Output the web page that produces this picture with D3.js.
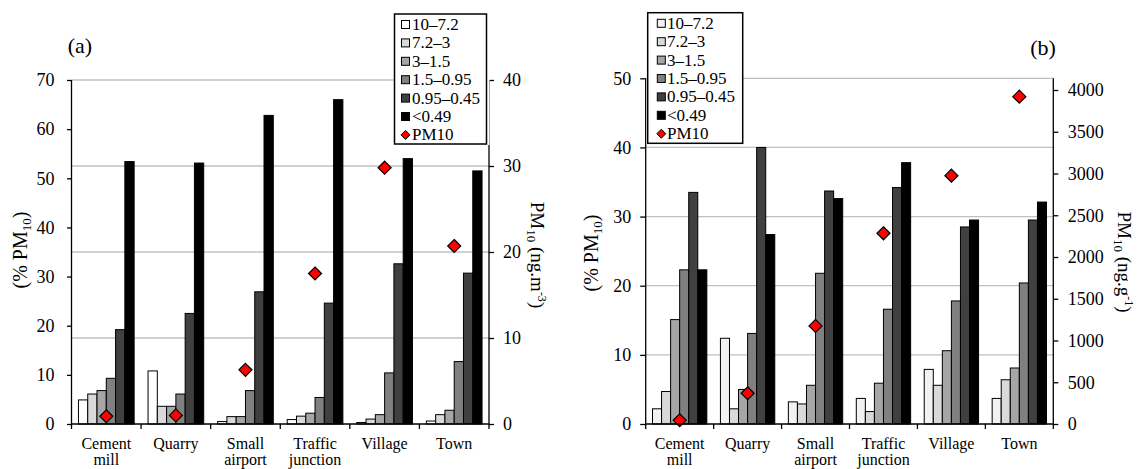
<!DOCTYPE html>
<html><head><meta charset="utf-8">
<script src="https://cdn.jsdelivr.net/npm/d3@7"></script>
<style>
html,body{margin:0;padding:0;background:#fff;}
svg{display:block;font-family:"Liberation Serif","Times New Roman",serif;}
</style></head>
<body>
<svg id="chart" width="1138" height="469"></svg>
<script>
// ---------- data ----------
const categories = ["Cement mill","Quarry","Small airport","Traffic junction","Village","Town"];
const sizeClasses = ["10\u20137.2","7.2\u20133","3\u20131.5","1.5\u20130.95","0.95\u20130.45","<0.49"];

// panel (a): % PM10 per size class
const a_10_72   = [4.9, 10.8, 0.5, 0.9, 0.3, 0.6];
const a_72_3    = [6.1, 3.6, 1.5, 1.6, 1.0, 1.9];
const a_3_15    = [6.8, 3.6, 1.5, 2.2, 1.9, 2.8];
const a_15_095  = [9.3, 6.1, 6.8, 5.4, 10.4, 12.7];
const a_095_045 = [19.2, 22.5, 26.9, 24.6, 32.6, 30.7];
const a_049     = [53.4, 53.1, 62.8, 66.0, 54.0, 51.5];
const aPM10     = [0.9, 1.0, 6.3, 17.5, 29.8, 20.7];   // ng.m-3

// panel (b): % PM10 per size class
const b_10_72   = [2.2, 12.4, 3.2, 3.7, 7.9, 3.7];
const b_72_3    = [4.7, 2.2, 2.9, 1.8, 5.6, 6.4];
const b_3_15    = [15.1, 5.0, 5.6, 5.9, 10.6, 8.1];
const b_15_095  = [22.3, 13.1, 21.8, 16.6, 17.8, 20.4];
const b_095_045 = [33.5, 40.0, 33.7, 34.2, 28.5, 29.5];
const b_049     = [22.3, 27.4, 32.6, 37.8, 29.5, 32.1];
const bPM10     = [45, 368, 1175, 2284, 2974, 3920];    // ng.g-1

const aLeftTicks  = [0,10,20,30,40,50,60,70];
const aRightTicks = [0,10,20,30,40];
const bLeftTicks  = [0,10,20,30,40,50];
const bRightTicks = [0,500,1000,1500,2000,2500,3000,3500,4000];

const fillsA = ["#ffffff","#d9d9d9","#a6a6a6","#808080","#404040","#000000"];
const fillsB = ["#f2f2f2","#d9d9d9","#a6a6a6","#808080","#404040","#000000"];

const FONT = "Liberation Serif, Times New Roman, serif";
const svg = d3.select("#chart");

function drawPanel(cfg){
  const g = svg.append("g").attr("font-family", FONT);
  const x = d3.scaleBand().domain(categories).range([cfg.xL, cfg.xR]).paddingInner(0).paddingOuter(0);
  const w = x.bandwidth();
  const xs = d3.scaleBand().domain(sizeClasses).range([w*0.75/7.5, w*6.75/7.5]).padding(0);
  const yL = d3.scaleLinear().domain(cfg.leftDomain).range([cfg.yBot, cfg.yTopL]);
  const yR = d3.scaleLinear().domain(cfg.rightDomain).range([cfg.yBot, cfg.yTopR]);

  // gridlines
  const gridScale = cfg.gridOn === "right" ? yR : yL;
  const gridTicks = (cfg.gridOn === "right" ? cfg.rightTicks : cfg.leftTicks).filter(d=>d>0);
  g.append("g").selectAll("line").data(gridTicks).join("line")
    .attr("x1", cfg.xL).attr("x2", cfg.xR)
    .attr("y1", d=>gridScale(d)).attr("y2", d=>gridScale(d))
    .attr("stroke","#c0c0c0").attr("stroke-width",1.3);

  // bars
  cfg.series.forEach((vals, j) => {
    g.append("g").selectAll("rect").data(vals).join("rect")
      .attr("x", (d,i)=>x(categories[i]) + xs(sizeClasses[j]))
      .attr("width", xs.bandwidth())
      .attr("y", d=>yL(d))
      .attr("height", d=>yL(0)-yL(d))
      .attr("fill", cfg.fills[j])
      .attr("stroke","#000").attr("stroke-width",1);
  });

  // PM10 diamonds
  const ds = 6.5;
  g.append("g").selectAll("path").data(cfg.pm).join("path")
    .attr("d", (d,i)=>{
      const cx = x(categories[i]) + w/2, cy = yR(d);
      return `M${cx},${cy-ds}L${cx+ds},${cy}L${cx},${cy+ds}L${cx-ds},${cy}Z`;
    })
    .attr("fill","#ff0000").attr("stroke","#000").attr("stroke-width",1.2);

  // axes
  const fmt = d3.format("d");
  const axL = g.append("g").attr("transform",`translate(${cfg.xL},0)`)
    .call(d3.axisLeft(yL).tickValues(cfg.leftTicks).tickFormat(fmt).tickSize(cfg.tickL).tickSizeOuter(0).tickPadding(cfg.padL));
  const axR = g.append("g").attr("transform",`translate(${cfg.xR},0)`)
    .call(d3.axisRight(yR).tickValues(cfg.rightTicks).tickFormat(fmt).tickSize(5).tickSizeOuter(0).tickPadding(cfg.padR));
  [axL, axR].forEach(ax=>{
    ax.attr("font-family", FONT);
    ax.select(".domain").remove();
    ax.selectAll("line").attr("stroke","#000").attr("stroke-width",1.3);
    ax.selectAll("text").attr("font-size",18).attr("font-family",FONT).attr("fill","#000");
  });
  // vertical axis lines
  g.append("line").attr("x1",cfg.xL).attr("x2",cfg.xL).attr("y1",cfg.yTopAxis).attr("y2",cfg.yBot)
    .attr("stroke","#000").attr("stroke-width",1.3);
  g.append("line").attr("x1",cfg.xR).attr("x2",cfg.xR).attr("y1",cfg.yTopAxis).attr("y2",cfg.yBot)
    .attr("stroke","#000").attr("stroke-width",1.3);
  // bottom axis
  g.append("line").attr("x1",cfg.xL).attr("x2",cfg.xR).attr("y1",cfg.yBot).attr("y2",cfg.yBot)
    .attr("stroke","#000").attr("stroke-width",1.3);
  const bounds = categories.map(c=>x(c)).concat([cfg.xR]);
  g.append("g").selectAll("line").data(bounds).join("line")
    .attr("x1",d=>d).attr("x2",d=>d).attr("y1",cfg.yBot).attr("y2",cfg.yBot+5)
    .attr("stroke","#000").attr("stroke-width",1.3);
  // category labels
  const cl = g.append("g").selectAll("text").data(categories).join("text")
    .attr("x", d=>x(d)+w/2).attr("y", 449)
    .attr("text-anchor","middle").attr("font-size",16).attr("fill","#000");
  cl.each(function(d){
    const parts = d.split(" ");
    const t = d3.select(this);
    parts.forEach((p,k)=>{
      t.append("tspan").attr("x", x(d)+w/2).attr("dy", k===0?0:16).text(p);
    });
  });

  // legend
  const lg = g.append("g");
  lg.append("rect").attr("x",cfg.lgX-1).attr("y",cfg.lgY-1).attr("width",cfg.lgW+cfg.lgCover).attr("height",cfg.lgH+2)
    .attr("fill","#fff");
  lg.append("rect").attr("x",cfg.lgX).attr("y",cfg.lgY).attr("width",cfg.lgW).attr("height",cfg.lgH)
    .attr("fill","#fff").attr("stroke","#000").attr("stroke-width",1.5);
  const rowY = k => cfg.lgRow0 + k*18.4;
  sizeClasses.forEach((s,k)=>{
    lg.append("rect").attr("x",cfg.lgSqX).attr("y",rowY(k)-4).attr("width",8).attr("height",8)
      .attr("fill",cfg.fills[k]).attr("stroke","#000").attr("stroke-width",1);
    lg.append("text").attr("x",cfg.lgTxX).attr("y",rowY(k)+5.5).attr("font-size",17).attr("fill","#000").text(s);
  });
  const ky = rowY(6), kx = cfg.lgSqX+4, kd = 4.5;
  lg.append("path").attr("d",`M${kx},${ky-kd}L${kx+kd},${ky}L${kx},${ky+kd}L${kx-kd},${ky}Z`)
    .attr("fill","#ff0000").attr("stroke","#000").attr("stroke-width",1);
  lg.append("text").attr("x",cfg.lgTxX).attr("y",ky+5.5).attr("font-size",17).attr("fill","#000").text("PM10");

  // panel letter
  g.append("text").attr("x",cfg.letterX).attr("y",cfg.letterY).attr("text-anchor","middle")
    .attr("font-size",22).attr("fill","#000").text(cfg.letter);

  // left title
  const lt = g.append("text").attr("transform",`translate(${cfg.ltX},${cfg.ltY}) rotate(-90)`)
    .attr("text-anchor","middle").attr("font-size",20).attr("fill","#000");
  lt.append("tspan").text("(% PM");
  lt.append("tspan").attr("font-size",13).attr("dy",4).text("10");
  lt.append("tspan").attr("dy",-4).text(")");

  // right title
  const rt = g.append("text").attr("transform",`translate(${cfg.rtX},${cfg.rtY}) rotate(90)`)
    .attr("text-anchor","middle").attr("font-size",19).attr("fill","#000");
  rt.append("tspan").text("PM");
  rt.append("tspan").attr("font-size",13).attr("dy",4).text("10");
  rt.append("tspan").attr("dy",-4).text(" (ng." + cfg.unitBase);
  rt.append("tspan").attr("font-size",12).attr("dy",-7).text(cfg.unitExp);
  rt.append("tspan").attr("dy",7).text(")");
}

drawPanel({
  xL:71.5, xR:489, yBot:424, yTopL:80, yTopR:80, yTopAxis:80,
  leftDomain:[0,70], rightDomain:[0,40],
  leftTicks:aLeftTicks, rightTicks:aRightTicks, gridOn:"right",
  tickL:4.5, padL:12.5, padR:9,
  series:[a_10_72,a_72_3,a_3_15,a_15_095,a_095_045,a_049], fills:fillsA, pm:aPM10,
  lgX:394.5, lgY:14, lgW:92, lgH:130, lgCover:4, lgSqX:401.5, lgTxX:412, lgRow0:24.5,
  letter:"(a)", letterX:80, letterY:53,
  ltX:27, ltY:250, rtX:531, rtY:255, unitBase:"m", unitExp:"-3"
});

drawPanel({
  xL:645.7, xR:1053.3, yBot:424, yTopL:78.3, yTopR:90, yTopAxis:78.3,
  leftDomain:[0,50], rightDomain:[0,4000],
  leftTicks:bLeftTicks, rightTicks:bRightTicks, gridOn:"left",
  tickL:5.5, padL:9, padR:9.5,
  series:[b_10_72,b_72_3,b_3_15,b_15_095,b_095_045,b_049], fills:fillsB, pm:bPM10,
  lgX:647.7, lgY:12.7, lgW:95, lgH:130.6, lgCover:1, lgSqX:657.3, lgTxX:667, lgRow0:23.3,
  letter:"(b)", letterX:1043, letterY:55,
  ltX:598, ltY:253, rtX:1118, rtY:262, unitBase:"g", unitExp:"-1"
});
</script>
</body></html>
